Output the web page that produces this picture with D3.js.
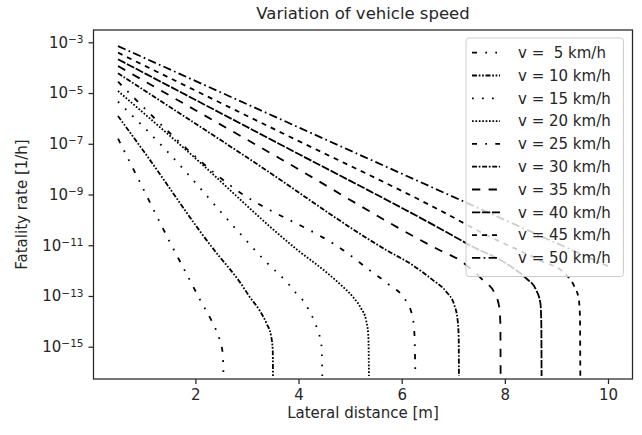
<!DOCTYPE html>
<html>
<head>
<meta charset="utf-8">
<script src="https://cdn.jsdelivr.net/npm/d3@7"></script>
<style>
  body { margin: 0; background: #fff; }
  svg { font-family: "DejaVu Sans", sans-serif; }
</style>
</head>
<body>
<svg id="chart" width="642" height="435"></svg>
<script>
// speeds shown in the legend
const speeds = [5, 10, 15, 20, 25, 30, 35, 40, 45, 50];
const legendLabels = ["v =  5 km/h", "v = 10 km/h", "v = 15 km/h", "v = 20 km/h", "v = 25 km/h",
                      "v = 30 km/h", "v = 35 km/h", "v = 40 km/h", "v = 45 km/h", "v = 50 km/h"];

// [lateral distance m, fatality rate 1/h]
const curve5 = [[0.5, 1.6e-7], [0.92, 3.2e-9], [1.5, 1.4e-11], [1.89, 4.3e-13], [2.11, 6.0e-14],
                [2.31, 1.1e-14], [2.40, 4.6e-15], [2.47, 1.9e-15], [2.53, 5.5e-16], [2.545, 7e-17]];
const curve10 = [[0.5, 1.24e-6], [0.98, 5.7e-8], [2.47, 3.5e-12], [2.66, 1.2e-12], [2.86, 3.6e-13],
                 [3.05, 9.4e-14], [3.24, 2.8e-14], [3.38, 8.3e-15], [3.47, 2.5e-15], [3.50, 7.4e-16], [3.505, 7e-17]];
const curve15 = [[0.5, 4.6e-6], [1.43, 5.7e-8], [2.79, 4.3e-11], [3.37, 2.2e-12], [3.79, 3.2e-13],
                 [3.95, 1.3e-13], [4.08, 6.9e-14], [4.18, 3.3e-14], [4.31, 9.8e-15], [4.39, 3.4e-15],
                 [4.44, 1.4e-15], [4.456, 2.6e-16], [4.46, 7e-17]];
const curve20 = [[0.5, 1.2e-5], [1.82, 5.7e-8], [3.98, 6.5e-12], [4.60, 6.8e-13], [4.86, 2.3e-13],
                 [5.05, 9.4e-14], [5.21, 3.3e-14], [5.31, 1.1e-14], [5.35, 3.4e-15], [5.36, 7.4e-16], [5.365, 7e-17]];
const curve25 = [[0.5, 2.8e-5], [2.66, 2.4e-9], [4.99, 4.2e-12], [5.37, 1.06e-12], [5.76, 2.7e-13],
                 [6.09, 6.0e-14], [6.21, 1.5e-14], [6.25, 2.5e-15], [6.26, 3.0e-16], [6.265, 7e-17]];
const curve30 = [[0.5, 6.0e-5], [3.05, 2.5e-8], [5.70, 6.5e-12], [6.21, 1.65e-12], [6.60, 4.3e-13],
                 [6.86, 1.5e-13], [7.02, 4.4e-14], [7.085, 1.1e-14], [7.105, 2.5e-15], [7.11, 7e-17]];
const curve35 = [[0.5, 1.16e-4], [3.63, 2.7e-8], [6.73, 6.5e-12], [7.12, 2.6e-12], [7.57, 4.3e-13],
                 [7.80, 1.3e-13], [7.89, 3.8e-14], [7.913, 8.3e-15], [7.918, 7e-17]];
const curve40 = [[0.5, 2.14e-4], [3.63, 9.8e-8], [6.73, 4.7e-11], [7.38, 8.7e-12], [8.02, 1.95e-12],
                 [8.41, 5.0e-13], [8.605, 1.74e-13], [8.69, 5.1e-14], [8.707, 8.3e-15], [8.712, 7e-17]];
const curve45 = [[0.5, 3.9e-4], [3.6, 3.2e-7], [6.73, 2.45e-10], [7.70, 2.2e-11], [8.67, 2.6e-12],
                 [9.19, 6.8e-13], [9.35, 2.3e-13], [9.43, 8.1e-14], [9.457, 1.5e-14], [9.463, 7e-17]];
const curve50 = [[0.5, 7.1e-4], [5.25, 3.2e-8], [10.0, 1.5e-12]];
const curves = [curve5, curve10, curve15, curve20, curve25, curve30, curve35, curve40, curve45, curve50];

// dash style per speed
const dashStyles = ["5,8.3,1.7,8.3,1.7,8.3", "5,1.7,1.7,1.7,1.7,1.7", "1.7,8.3", "1.7,1.7", "5,8.3,1.7,8.3",
                    "5,1.7,1.7,1.7", "8.3,8.3", "8.3,1.7", "5,5", "8.3,3.3,1.7,3.3"];

const xTicks = [2, 4, 6, 8, 10];
const yTickExps = [-3, -5, -7, -9, -11, -13, -15];

const ink = "#262626";
const svg = d3.select("#chart");
const plotLeft = 93.5, plotRight = 632.5, plotTop = 30, plotBottom = 379;

const x = d3.scaleLinear().domain([0.025, 10.475]).range([plotLeft, plotRight]);
const y = d3.scaleLog().domain([Math.pow(10, -16.273), Math.pow(10, -2.515)]).range([plotBottom, plotTop]);

svg.append("defs").append("clipPath").attr("id", "plotClip")
    .append("rect")
    .attr("x", plotLeft).attr("y", plotTop)
    .attr("width", plotRight - plotLeft).attr("height", plotBottom - plotTop);

// curves
const line = d3.line()
    .x(d => x(d[0]))
    .y(d => y(d[1]))
    .curve(d3.curveMonotoneX);

svg.append("g")
    .attr("clip-path", "url(#plotClip)")
    .selectAll("path")
    .data(curves)
    .enter()
    .append("path")
    .attr("d", line)
    .attr("fill", "none")
    .attr("stroke", "#000")
    .attr("stroke-width", 1.8)
    .attr("stroke-dasharray", (d, i) => dashStyles[i]);

// x axis
const xAxis = svg.append("g")
    .attr("transform", `translate(0, ${plotBottom})`)
    .call(d3.axisBottom(x).tickValues(xTicks).tickSize(5).tickPadding(5).tickFormat(d3.format("d")));
xAxis.select(".domain").remove();
xAxis.selectAll("line").attr("stroke", ink).attr("stroke-width", 1.25);
xAxis.selectAll("text").attr("fill", ink).style("font-size", "15px").attr("font-family", "DejaVu Sans");

// y axis
const yAxis = svg.append("g")
    .attr("transform", `translate(${plotLeft}, 0)`)
    .call(d3.axisLeft(y).tickValues(yTickExps.map(e => Math.pow(10, e))).tickSize(5).tickFormat(""));
yAxis.select(".domain").remove();
yAxis.selectAll("line").attr("stroke", ink).attr("stroke-width", 1.25);

yAxis.selectAll(".tick")
    .data(yTickExps)
    .append("text")
    .attr("x", -10)
    .attr("dy", "0.32em")
    .attr("text-anchor", "end")
    .attr("fill", ink)
    .style("font-size", "15px")
    .attr("font-family", "DejaVu Sans")
    .each(function (e) {
        const t = d3.select(this);
        t.append("tspan").text("10");
        t.append("tspan").attr("dy", "-0.45em").style("font-size", "10.5px").text("\u2212" + Math.abs(e));
    });

// frame
svg.append("rect")
    .attr("x", plotLeft).attr("y", plotTop)
    .attr("width", plotRight - plotLeft).attr("height", plotBottom - plotTop)
    .attr("fill", "none")
    .attr("stroke", ink)
    .attr("stroke-width", 1.25);

// labels
svg.append("text")
    .attr("x", (plotLeft + plotRight) / 2).attr("y", 418)
    .attr("text-anchor", "middle")
    .attr("fill", ink)
    .style("font-size", "15px")
    .text("Lateral distance [m]");

svg.append("text")
    .attr("transform", `translate(27, ${(plotTop + plotBottom) / 2}) rotate(-90)`)
    .attr("text-anchor", "middle")
    .attr("fill", ink)
    .style("font-size", "15px")
    .text("Fatality rate [1/h]");

svg.append("text")
    .attr("x", (plotLeft + plotRight) / 2).attr("y", 19)
    .attr("text-anchor", "middle")
    .attr("fill", ink)
    .style("font-size", "16.5px")
    .text("Variation of vehicle speed");

// legend
const legend = svg.append("g");
legend.append("rect")
    .attr("x", 466).attr("y", 38)
    .attr("width", 157.5).attr("height", 238.5)
    .attr("rx", 3)
    .attr("fill", "#fff").attr("fill-opacity", 0.8)
    .attr("stroke", "#cccccc").attr("stroke-width", 1);

const rows = legend.selectAll(".row")
    .data(speeds)
    .enter()
    .append("g")
    .attr("class", "row")
    .attr("transform", (d, i) => `translate(0, ${52.7 + i * 22.8})`);

rows.append("line")
    .attr("x1", 472).attr("x2", 500)
    .attr("stroke", "#000")
    .attr("stroke-width", 1.8)
    .attr("stroke-dasharray", (d, i) => dashStyles[i]);

rows.append("text")
    .attr("x", 518)
    .attr("dy", "0.35em")
    .attr("fill", ink)
    .style("font-size", "15px")
    .style("white-space", "pre")
    .text((d, i) => legendLabels[i]);
</script>
</body>
</html>
